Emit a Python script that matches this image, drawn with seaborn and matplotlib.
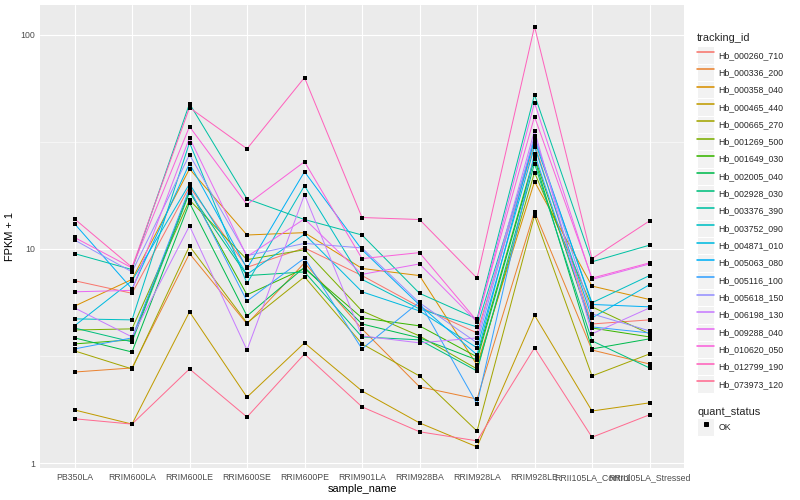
import numpy as np
import pandas as pd
import matplotlib
matplotlib.use("Agg")
import matplotlib.pyplot as plt
import seaborn as sns
from matplotlib.lines import Line2D
from matplotlib.patches import Rectangle
from matplotlib.legend_handler import HandlerLine2D
from matplotlib.ticker import FixedLocator, NullFormatter

samples = ["PB350LA", "RRIM600LA", "RRIM600LE", "RRIM600SE", "RRIM600PE",
           "RRIM901LA", "RRIM928BA", "RRIM928LA", "RRIM928LE",
           "RRII105LA_Control", "RRII105LA_Stressed"]

tracking_ids = ["Hb_000260_710", "Hb_000336_200", "Hb_000358_040", "Hb_000465_440",
                "Hb_000665_270", "Hb_001269_500", "Hb_001649_030", "Hb_002005_040",
                "Hb_002928_030", "Hb_003376_390", "Hb_003752_090", "Hb_004871_010",
                "Hb_005063_080", "Hb_005116_100", "Hb_005618_150", "Hb_006198_130",
                "Hb_009288_040", "Hb_010620_050", "Hb_012799_190", "Hb_073973_120"]

colors = ["#F8766D", "#EA8331", "#D89000", "#C09B00", "#A3A500", "#7CAE00",
          "#39B600", "#00BB4E", "#00BF7D", "#00C1A3", "#00BFC4", "#00BAE0",
          "#00B0F6", "#35A2FF", "#9590FF", "#C77CFF", "#E76BF3", "#FA62DB",
          "#FF62BC", "#FF6C91"]

# FPKM + 1 per sample, one list per tracking_id
hb_000260_710 = [7.1, 6.2, 19.5, 8.2, 10.1, 7.5, 5.36, 4.05, 30.9, 4.46, 4.66]
hb_000336_200 = [2.66, 2.78, 9.5, 4.46, 8.6, 4.23, 2.27, 1.99, 14.9, 3.37, 2.90]
hb_000358_040 = [5.4, 7.2, 23.6, 11.6, 11.9, 8.1, 7.5, 2.87, 20.6, 6.7, 5.8]
hb_000465_440 = [1.77, 1.52, 5.08, 2.03, 3.64, 2.17, 1.54, 1.19, 4.9, 1.75, 1.91]
hb_000665_270 = [3.34, 2.75, 10.3, 4.51, 7.4, 3.60, 2.55, 1.41, 14.3, 2.55, 3.23]
hb_001269_500 = [4.18, 4.23, 16.9, 8.9, 9.9, 5.13, 3.92, 2.75, 22.7, 5.36, 4.01]
hb_001649_030 = [3.60, 3.76, 18.7, 6.1, 8.1, 4.76, 4.37, 3.13, 26.9, 4.27, 3.88]
hb_002005_040 = [3.84, 3.30, 16.4, 4.86, 8.2, 4.46, 3.84, 3.03, 26.3, 3.41, 3.80]
hb_002928_030 = [4.27, 3.68, 18.3, 7.5, 7.8, 3.88, 3.76, 2.69, 25.0, 3.72, 2.78]
hb_003376_390 = [9.5, 8.0, 47.6, 17.1, 13.7, 11.6, 6.2, 4.71, 52.4, 8.7, 10.4]
hb_003752_090 = [4.71, 4.66, 31.3, 6.9, 19.7, 7.2, 5.24, 4.32, 32.0, 5.6, 7.5]
hb_004871_010 = [4.37, 7.1, 20.1, 7.6, 11.7, 6.3, 5.13, 3.45, 30.0, 4.76, 6.8]
hb_005063_080 = [13.1, 6.5, 25.0, 8.1, 22.9, 9.9, 5.47, 3.20, 33.0, 5.5, 5.36]
hb_005116_100 = [3.41, 3.84, 19.1, 5.7, 9.05, 3.41, 5.65, 1.89, 27.8, 4.32, 4.05]
hb_005618_150 = [11.0, 7.8, 27.5, 9.3, 10.6, 10.1, 5.6, 3.64, 33.7, 4.97, 4.14]
hb_006198_130 = [5.3, 3.88, 12.8, 3.37, 17.9, 3.92, 3.64, 3.84, 35.6, 4.01, 5.3]
hb_009288_040 = [6.3, 6.4, 33.0, 9.2, 13.8, 7.6, 8.5, 4.56, 48.1, 7.2, 8.5]
hb_010620_050 = [11.3, 8.15, 37.2, 16.1, 25.5, 9.0, 9.6, 4.61, 41.4, 7.3, 8.6]
hb_012799_190 = [13.8, 8.2, 45.6, 29.3, 63.0, 14.0, 13.7, 7.3, 109.0, 9.0, 13.5]
hb_073973_120 = [1.61, 1.52, 2.75, 1.64, 3.23, 1.83, 1.40, 1.27, 3.45, 1.32, 1.68]

series = [hb_000260_710, hb_000336_200, hb_000358_040, hb_000465_440, hb_000665_270,
          hb_001269_500, hb_001649_030, hb_002005_040, hb_002928_030, hb_003376_390,
          hb_003752_090, hb_004871_010, hb_005063_080, hb_005116_100, hb_005618_150,
          hb_006198_130, hb_009288_040, hb_010620_050, hb_012799_190, hb_073973_120]

rows = []
for tid, vals in zip(tracking_ids, series):
    for i, (s, v) in enumerate(zip(samples, vals)):
        rows.append({"tracking_id": tid, "sample_idx": i, "sample_name": s,
                     "fpkm1": v, "quant_status": "OK"})
df = pd.DataFrame(rows)
palette = dict(zip(tracking_ids, colors))

sns.set_style("darkgrid", {"axes.facecolor": "#EBEBEB", "grid.color": "white"})
plt.rcParams["font.family"] = ["Liberation Sans", "DejaVu Sans"]

fig = plt.figure(figsize=(800 / 72, 500 / 72), dpi=72)
ax = fig.add_axes([40 / 800, 32 / 500, 644 / 800, 463 / 500])
ax.set_facecolor("#EBEBEB")

sns.lineplot(data=df, x="sample_idx", y="fpkm1", hue="tracking_id", palette=palette,
             hue_order=tracking_ids, estimator=None, linewidth=1.0, legend=False, ax=ax,
             zorder=2)
sns.scatterplot(data=df, x="sample_idx", y="fpkm1", color="black", marker="s", s=11,
                linewidth=0, legend=False, ax=ax, zorder=3)

ax.set_yscale("log")
ax.set_ylim(10 ** -0.023, 10 ** 2.138)
ax.set_xlim(-0.6, len(samples) - 1 + 0.6)
ax.yaxis.set_major_locator(FixedLocator([1, 10, 100]))
ax.set_yticklabels(["1", "10", "100"])
ax.yaxis.set_minor_locator(FixedLocator([10 ** 0.5, 10 ** 1.5]))
ax.yaxis.set_minor_formatter(NullFormatter())
ax.set_xticks(range(len(samples)))
ax.set_xticklabels(samples)

ax.grid(False)
ax.grid(which="major", axis="both", color="white", linewidth=1.1)
ax.grid(which="minor", axis="y", color="white", linewidth=0.55)
ax.set_axisbelow(True)
for sp in ax.spines.values():
    sp.set_visible(False)
ax.tick_params(axis="both", which="major", length=2.75, width=0.8, color="#333333",
               labelsize=8.8, labelcolor="#4D4D4D", pad=2.2)
ax.tick_params(axis="y", which="minor", length=0)
ax.set_xlabel("sample_name", fontsize=11, color="black", labelpad=2)
ax.set_ylabel("FPKM + 1", fontsize=11, color="black", labelpad=5)


class KeyHandler(HandlerLine2D):
    def create_artists(self, legend, orig_handle, xdescent, ydescent, width, height,
                       fontsize, trans):
        arts = super().create_artists(legend, orig_handle, xdescent, ydescent, width,
                                      height, fontsize, trans)
        r = Rectangle((-xdescent, -ydescent), width, height, facecolor="#F2F2F2",
                      edgecolor="white", linewidth=1.0, transform=trans)
        return [r] + list(arts)


leg_kw = dict(loc="upper left", frameon=False, fontsize=8.8, handlelength=1.96,
              handleheight=2.65, labelspacing=0.0, handletextpad=0.45, borderpad=0,
              borderaxespad=0, handler_map={Line2D: KeyHandler()})

handles = [Line2D([], [], color=palette[t], linewidth=1.6) for t in tracking_ids]
leg1 = fig.legend(handles, tracking_ids, bbox_to_anchor=(697 / 800, 1 - 46.5 / 500),
                  **leg_kw)
fig.text(697 / 800, 1 - 38 / 500, "tracking_id", fontsize=11, va="center", ha="left")

h2 = [Line2D([], [], marker="s", color="black", linestyle="none", markersize=3.3)]
leg2 = fig.legend(h2, ["OK"], bbox_to_anchor=(697 / 800, 1 - 418.5 / 500), **leg_kw)
fig.text(697 / 800, 1 - 412 / 500, "quant_status", fontsize=11, va="center", ha="left")

fig.savefig("out.png", dpi=72)
